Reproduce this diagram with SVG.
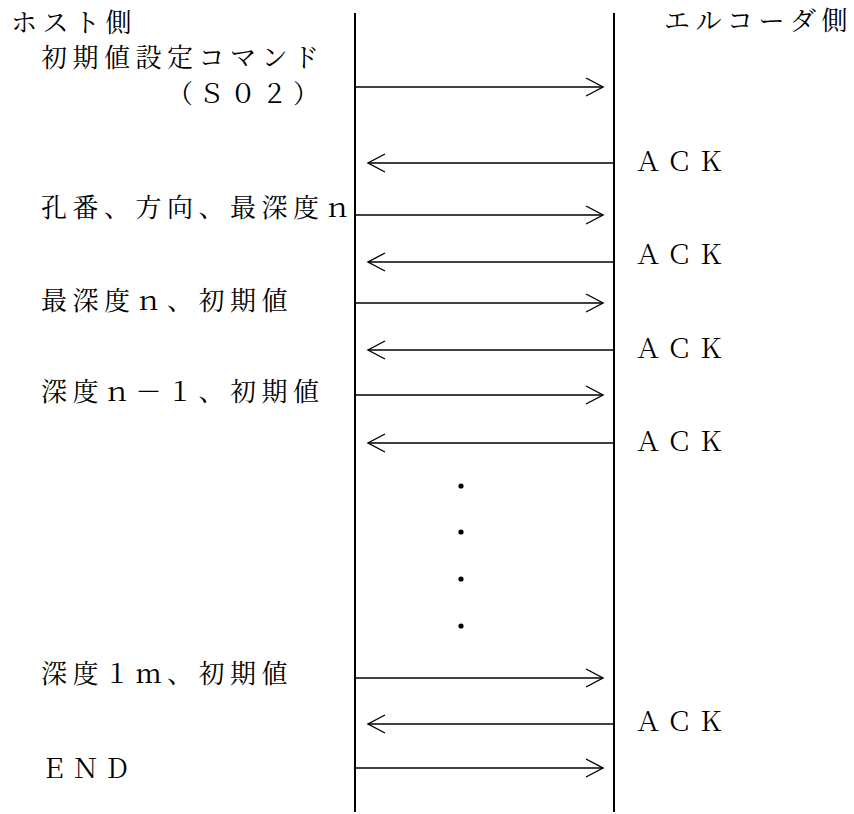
<svg xmlns="http://www.w3.org/2000/svg" width="854" height="814" viewBox="0 0 854 814">
<style>
text{font-family:"Noto Serif CJK JP","Noto Sans CJK JP",serif;font-size:26px;letter-spacing:5.5px;fill:#000}
.life{stroke:#000;stroke-width:2;fill:none}
.msg{stroke:#000;stroke-width:1.4;fill:none;marker-end:url(#ah)}
</style>
<defs>
<marker id="ah" markerUnits="userSpaceOnUse" markerWidth="20" markerHeight="22" viewBox="-1 -1 20 22" refX="17" refY="9" orient="auto">
<path d="M0,0 L17,9 L0,18" fill="none" stroke="#000" stroke-width="1.4"/>
</marker>
</defs>
<rect width="854" height="814" fill="#fff"/>
<g id="host">
<line class="life" x1="355" y1="13" x2="355" y2="812"/>
<text x="11" y="32">ホスト側</text>
</g>
<g id="encoder">
<line class="life" x1="614" y1="13" x2="614" y2="812"/>
<text x="664" y="30">エルコーダ側</text>
</g>
<g id="labels">
<text x="41" y="67">初期値設定コマンド</text>
<text x="167" y="103">（Ｓ０２）</text>
<text x="41" y="217">孔番、方向、最深度ｎ</text>
<text x="41" y="310">最深度ｎ、初期値</text>
<text x="41" y="401">深度ｎ－１、初期値</text>
<text x="41" y="683">深度１ｍ、初期値</text>
<text x="41" y="778">ＥＮＤ</text>
<text x="635" y="171">ＡＣＫ</text>
<text x="635" y="264">ＡＣＫ</text>
<text x="635" y="358">ＡＣＫ</text>
<text x="635" y="451">ＡＣＫ</text>
<text x="635" y="731">ＡＣＫ</text>
</g>
<g id="connectors">
<line class="msg" x1="355" y1="87" x2="603" y2="87"/>
<line class="msg" x1="614" y1="163" x2="368" y2="163"/>
<line class="msg" x1="355" y1="215" x2="603" y2="215"/>
<line class="msg" x1="614" y1="262" x2="368" y2="262"/>
<line class="msg" x1="355" y1="303" x2="603" y2="303"/>
<line class="msg" x1="614" y1="350" x2="368" y2="350"/>
<line class="msg" x1="355" y1="395" x2="603" y2="395"/>
<line class="msg" x1="614" y1="443" x2="368" y2="443"/>
<line class="msg" x1="355" y1="678" x2="603" y2="678"/>
<line class="msg" x1="614" y1="724" x2="368" y2="724"/>
<line class="msg" x1="355" y1="768" x2="603" y2="768"/>
</g>
<g id="ellipsis" fill="#000">
<circle cx="461" cy="486" r="2.6"/>
<circle cx="461" cy="532" r="2.6"/>
<circle cx="461" cy="579" r="2.6"/>
<circle cx="461" cy="626" r="2.6"/>
</g>
</svg>
